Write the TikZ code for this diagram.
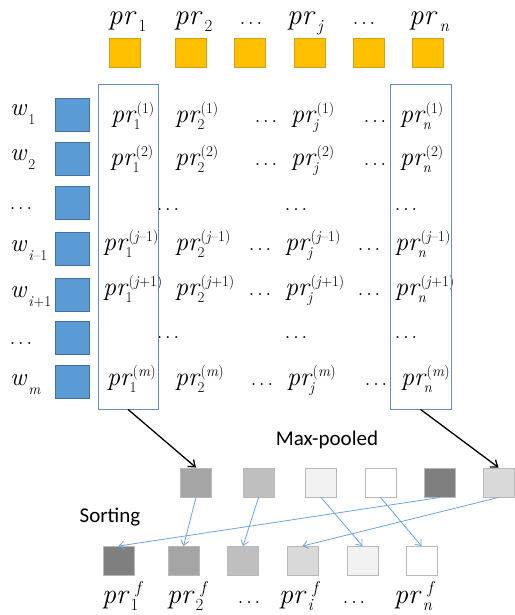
\documentclass[tikz,border=0pt]{standalone}
\usepackage{fontspec}
\newfontfamily\calibrifont{Carlito}
\usetikzlibrary{arrows.meta}

% small script sizes
\newcommand\scriptfs{\fontsize{15}{15}\selectfont}
\newcommand\labscriptfs{\fontsize{17}{17}\selectfont}

% entry of the score matrix: pr with a subscript and a superscript
\newcommand\prent[2]{\textit{pr}\rlap{\hspace{-3pt}\raisebox{-7pt}{\scriptfs #1}}\raisebox{8.5pt}{\scriptfs #2}}
% label above the parameter squares
\newcommand\prlab[1]{\textit{pr}\hspace{2pt}\raisebox{-7pt}{\labscriptfs #1}}
% label below the sorted squares
\newcommand\prf[1]{\textit{pr}\hspace{1pt}\rlap{\raisebox{-7pt}{\labscriptfs #1}}\hspace{5pt}\raisebox{10pt}{\labscriptfs\textit{f}}}
% word label
\newcommand\wlab[1]{\textit{w}\hspace{1pt}\raisebox{-9pt}{\scriptfs #1}}
% three dots
\newcommand\tdots{.\kern2.5pt.\kern2.5pt.}

\definecolor{orangefill}{HTML}{FFC000}
\definecolor{orangeline}{HTML}{D4A017}
\definecolor{bluefill}{HTML}{5B9BD5}
\definecolor{blueline}{HTML}{41719C}
\definecolor{colbox}{HTML}{6A8DB8}
\definecolor{sortline}{HTML}{6FA3DC}

\tikzset{
  x=1pt, y=-1pt,
  orangesq/.style={draw=orangeline, fill=orangefill, line width=0.8pt, minimum width=31pt, minimum height=29pt, inner sep=0pt},
  bluesq/.style={draw=blueline, fill=bluefill, line width=0.8pt, minimum width=34pt, minimum height=33pt, inner sep=0pt},
  graysq/.style={draw=black!28, line width=0.9pt, minimum width=31pt, minimum height=29pt, inner sep=0pt},
  entry/.style={anchor=base west, inner sep=0pt, font=\fontsize{26}{26}\selectfont},
  toplab/.style={anchor=base west, inner sep=0pt, font=\fontsize{29}{29}\selectfont},
  botlab/.style={anchor=base west, inner sep=0pt, font=\fontsize{28}{28}\selectfont},
  dotlab/.style={anchor=base, inner sep=0pt, font=\fontsize{24}{24}\selectfont},
  wl/.style={anchor=base west, inner sep=0pt, font=\fontsize{25}{25}\selectfont},
  sans/.style={inner sep=0pt, font=\calibrifont\fontsize{21}{21}\selectfont},
  colframe/.style={draw=colbox, line width=0.8pt},
  pool/.style={draw=black, line width=1.3pt, -{Straight Barb[length=6pt,width=9pt]}},
  sortarrow/.style={draw=sortline, line width=0.8pt, -{Straight Barb[length=5pt,width=8pt]}}
}

\begin{document}
\begin{tikzpicture}
\useasboundingbox (0,0) rectangle (514,615);

% parameter row on top
\foreach \i/\x in {1/124.5, 2/190.5, 3/249.5, 4/309.5, 5/368.5, 6/427.5}
  \node[orangesq] (o\i) at (\x,52.5) {};
\node[toplab] (t1) at (108,25) {\prlab{1}};
\node[toplab] (t2) at (174,25) {\prlab{2}};
\node[dotlab] (t3) at (251,25) {\tdots};
\node[toplab] (t4) at (287,25) {\prlab{\textit{j}}};
\node[dotlab] (t5) at (364,25) {\tdots};
\node[toplab] (t6) at (409,25) {\prlab{\textit{n}}};

% word embeddings
\foreach \i/\y in {1/115, 2/158.5, 3/202.5, 4/248.5, 5/294.5, 6/337.5, 7/381.5}
  \node[bluesq] (b\i) at (72,\y) {};
\node[wl] (w1) at (10,116) {\wlab{1}};
\node[wl] (w2) at (10,160) {\wlab{2}};
\node[dotlab] (w3) at (21,209) {\tdots};
\node[wl] (w4) at (10,251) {\wlab{\textit{i}--1}};
\node[wl] (w5) at (10,297) {\wlab{\textit{i}+1}};
\node[dotlab] (w6) at (21,344) {\tdots};
\node[wl] (w7) at (10,385) {\wlab{\textit{m}}};

% score matrix, one row at a time
\foreach \r/\y/\s/\xa/\xb/\xc/\xd/\xe/\xf in {
    1/122/(1)/111/175/266/291/375/400,
    2/165/(2)/110/175/266/291/375/400,
    4/250/(\textit{j}--1)/103/175/260/285/369/395,
    5/295/(\textit{j}+1)/103/175/260/285/369/395,
    7/385/(\textit{m})/107/175/262/287/376/401}{
  \node[entry] (e\r a) at (\xa,\y) {\prent{1}{\s}};
  \node[entry] (e\r b) at (\xb,\y) {\prent{2}{\s}};
  \node[dotlab] (e\r c) at (\xc,\y) {\tdots};
  \node[entry] (e\r d) at (\xd,\y) {\prent{\textit{j}}{\s}};
  \node[dotlab] (e\r e) at (\xe,\y) {\tdots};
  \node[entry] (e\r f) at (\xf,\y) {\prent{\textit{n}}{\s}};
}
\foreach \r/\y in {3/210, 6/338}{
  \node[dotlab] (e\r a) at (168,\y) {\tdots};
  \node[dotlab] (e\r b) at (296,\y) {\tdots};
  \node[dotlab] (e\r c) at (406,\y) {\tdots};
}

% framed columns
\node[colframe, minimum width=60pt, minimum height=325pt, inner sep=0pt] (c1) at (128,246.5) {};
\node[colframe, minimum width=61pt, minimum height=325pt, inner sep=0pt] (cn) at (420.5,246.5) {};

% max-pooled vector
\node[sans] (mp) at (327,440) {Max-pooled};
\foreach \i/\x/\g in {1/196/A5A5A5, 2/258.5/BFBFBF, 3/321/F2F2F2, 4/380.5/FFFFFF, 5/440/7F7F7F, 6/498.5/D9D9D9}{
  \definecolor{tmpfill}{HTML}{\g}
  \node[graysq, fill=tmpfill] (m\i) at (\x,482.5) {};
}

% sorted vector
\node[sans] (so) at (110,517) {Sorting};
\foreach \i/\x/\g in {1/118.5/7F7F7F, 2/183.5/A5A5A5, 3/243/BFBFBF, 4/302.5/D9D9D9, 5/362.5/F2F2F2, 6/421.5/FFFFFF}{
  \definecolor{tmpfill}{HTML}{\g}
  \node[graysq, fill=tmpfill] (s\i) at (\x,561) {};
}
\node[botlab] (f1) at (102,603) {\prf{1}};
\node[botlab] (f2) at (167,603) {\prf{2}};
\node[dotlab] (f3) at (249,603) {\tdots};
\node[botlab] (f4) at (279,603) {\prf{\textit{i}}};
\node[dotlab] (f5) at (354,603) {\tdots};
\node[botlab] (f6) at (394,603) {\prf{\textit{n}}};

% pooling arrows
\draw[pool] (c1.south) -- (m1.north);
\draw[pool] (cn.south) -- (m6.north);

% sorting arrows
\draw[sortarrow] (m1.south) -- (s2.north);
\draw[sortarrow] (m2.south) -- (s3.north);
\draw[sortarrow] (m3.south) -- (s5.north);
\draw[sortarrow] (m4.south) -- (s6.north);
\draw[sortarrow] (m5.south) -- (s1.north);
\draw[sortarrow] (m6.south) -- (s4.north);
\end{tikzpicture}
\end{document}
